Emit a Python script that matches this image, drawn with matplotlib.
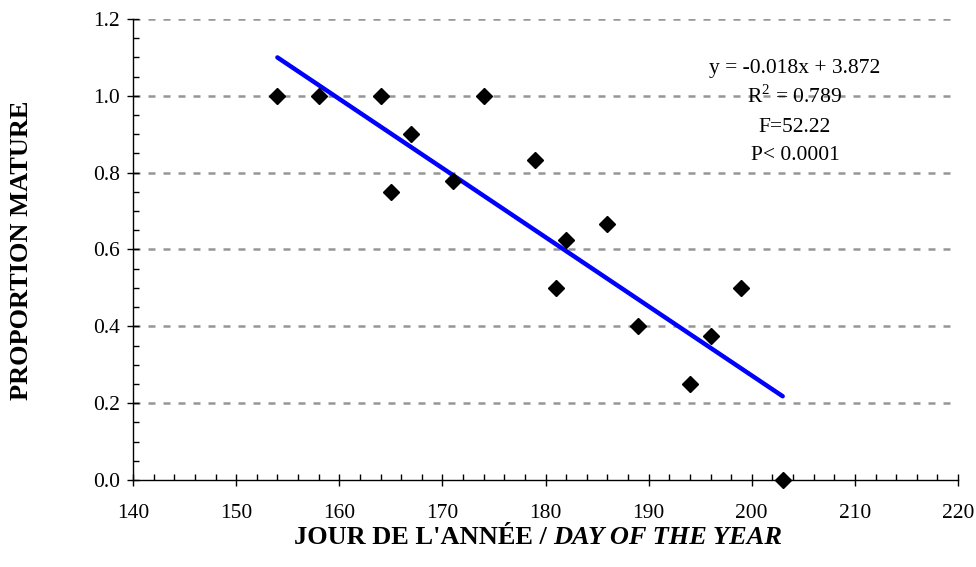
import numpy as np
import matplotlib.pyplot as plt
from matplotlib.ticker import MultipleLocator

plt.rcParams['font.family'] = ['Liberation Serif', 'DejaVu Serif']
plt.rcParams['mathtext.fontset'] = 'custom'
plt.rcParams['mathtext.rm'] = 'Liberation Serif'

# day of year and proportion of mature individuals
days = [154, 158, 164, 165, 167, 171, 174, 179, 181, 182, 186, 189, 194, 196, 199, 203]
prop_mature = [1.0, 1.0, 1.0, 0.75, 0.9, 0.778, 1.0, 0.833, 0.5, 0.625, 0.667, 0.4, 0.25, 0.375, 0.5, 0.0]

# fitted regression
slope = -0.018
intercept = 3.872
stats_lines = ["y = -0.018x + 3.872", r"R$^{2}$ = 0.789", "F=52.22", "P< 0.0001"]

W, H = 976, 567
fig = plt.figure(figsize=(W / 100, H / 100), dpi=100)
ax = fig.add_axes([133 / W, 1 - 480 / H, (958 - 133) / W, (480 - 19) / H])

ax.set_xlim(140, 220)
ax.set_ylim(0, 1.2)
ax.xaxis.set_major_locator(MultipleLocator(10))
ax.xaxis.set_minor_locator(MultipleLocator(2))
ax.yaxis.set_major_locator(MultipleLocator(0.2))
ax.yaxis.set_minor_locator(MultipleLocator(0.05))
ax.yaxis.set_major_formatter(plt.FuncFormatter(lambda v, p: f"{v:.1f}"))

for sp in ['top', 'right']:
    ax.spines[sp].set_visible(False)
for sp in ['left', 'bottom']:
    ax.spines[sp].set_linewidth(1.0)

ax.tick_params(which='major', direction='inout', length=9, width=1.0, labelsize=15.5)
ax.tick_params(axis='x', which='major', pad=13)
ax.tick_params(axis='y', which='major', pad=5)
ax.tick_params(which='minor', direction='in', length=4.5, width=1.0)

# horizontal dashed gridlines
for yv in np.arange(0.2, 1.21, 0.2):
    ax.axhline(yv, color='#969696', lw=1.8, dashes=(2.8, 3.2), zorder=0)

xfit = np.array([min(days), max(days)])
ax.plot(xfit, slope * xfit + intercept, color='#0000ff', lw=3.2, solid_capstyle='round', zorder=2)
ax.plot(days, prop_mature, linestyle='none', marker='D', markersize=8.5,
        color='black', zorder=3, clip_on=False)

ys = [69, 97, 127, 155]
for t, yp in zip(stats_lines, ys):
    fig.text(795 / W, 1 - yp / H, t, ha='center', va='center', fontsize=15.5)

fig.text(22 / W, 1 - 250 / H, "PROPORTION MATURE", rotation=90, ha='center', va='center',
         fontsize=19, fontweight='bold')
fig.text(547 / W, 1 - 538 / H, "JOUR DE L'ANNÉE /", ha='right', va='center',
         fontsize=19, fontweight='bold')
fig.text(553 / W, 1 - 538 / H, "DAY OF THE YEAR", ha='left', va='center',
         fontsize=19, fontweight='bold', style='italic')

fig.savefig('out.png', dpi=100)
